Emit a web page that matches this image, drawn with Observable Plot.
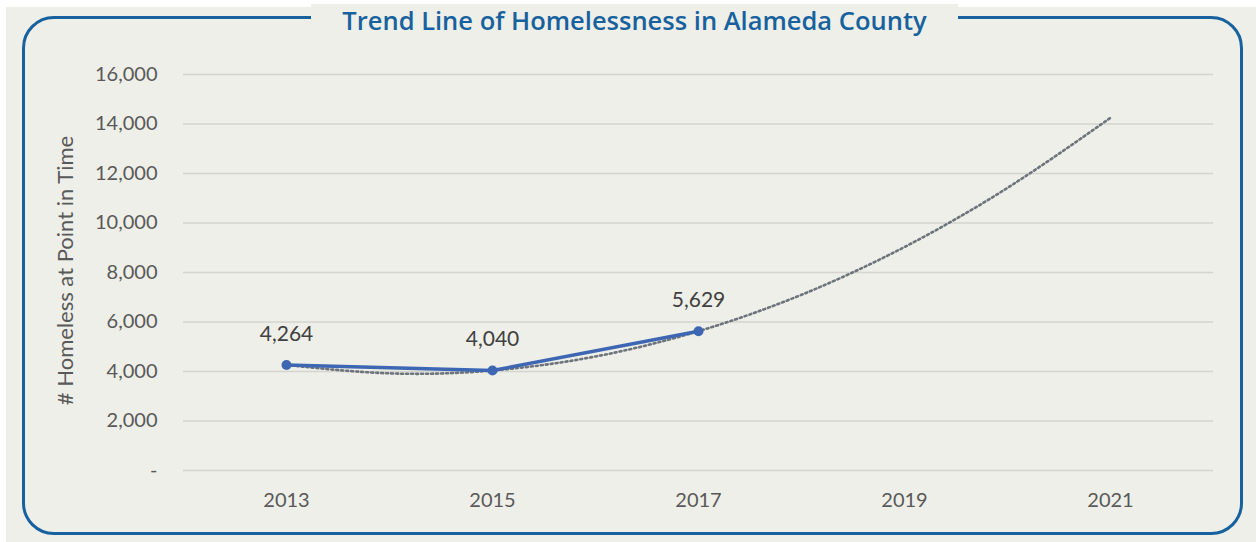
<!DOCTYPE html>
<html>
<head>
<meta charset="utf-8">
<script src="https://cdn.jsdelivr.net/npm/d3@7"></script>
<script src="https://cdn.jsdelivr.net/npm/@observablehq/plot@0.6"></script>
<style>
  html, body { margin: 0; padding: 0; background: #ffffff; }
  #wrap { position: relative; width: 1256px; height: 542px; overflow: hidden; background: #ffffff; }
  #bg { position: absolute; left: 6px; top: 7px; width: 1250px; height: 535px; background: #eeefe8; }
  #frame { position: absolute; left: 22px; top: 16px; width: 1215px; height: 513px;
           border: 3px solid #17629e; border-radius: 32px; }
  #title { position: absolute; left: 311px; width: 647px; top: 4px; text-align: center;
           background: #eeefe8; color: #17629e; font-family: "Open Sans", sans-serif;
           font-weight: 600; font-size: 25.5px; line-height: 32px; }
  #chart { position: absolute; left: 0; top: 0; }
</style>
</head>
<body>
<div id="wrap">
  <div id="bg"></div>
  <div id="frame"></div>
  <div id="title">Trend Line of Homelessness in Alameda County</div>
  <div id="chart"></div>
</div>
<script>
// Observed counts
const years = [2013, 2015, 2017];
const counts = [4264, 4040, 5629];
// Trend line
const trendYears = [2013, 2014, 2015, 2016, 2017, 2018, 2019, 2020, 2021];
const trendValues = [4264, 3925, 4040, 4607, 5629, 7100, 9030, 11420, 14250];
// Axis ticks
const xTicks = [2013, 2015, 2017, 2019, 2021];
const yTicks = [0, 2000, 4000, 6000, 8000, 10000, 12000, 14000, 16000];
const yLabel = "# Homeless at Point in Time";

const observed = years.map((y, i) => ({year: y, value: counts[i]}));
const trend = trendYears.map((y, i) => ({year: y, value: trendValues[i]}));

const fmt = d3.format(",");
const chart = Plot.plot({
  width: 1256,
  height: 542,
  marginLeft: 183,
  marginRight: 43,
  marginTop: 74,
  marginBottom: 72,
  style: {background: "transparent", fontFamily: "Lato, 'Open Sans', sans-serif", fontSize: "20px", color: "#595959"},
  x: {domain: [2012, 2022]},
  y: {domain: [0, 16000]},
  marks: [
    Plot.gridY(yTicks, {stroke: "#d4d4d0", strokeOpacity: 1, strokeWidth: 1.5}),
    Plot.axisY({ticks: yTicks, tickSize: 0, tickPadding: 26, tickFormat: d => d === 0 ? "-" : fmt(d),
      fill: "#595959", fontSize: 20, label: null}),
    Plot.text([yLabel], {text: d => d, frameAnchor: "left", textAnchor: "middle", lineAnchor: "middle",
      rotate: -90, dx: -118, dy: -2, fontSize: 22, fill: "#595959"}),
    Plot.axisX({ticks: xTicks, tickSize: 0, tickPadding: 22, tickFormat: d => String(d),
      fill: "#595959", fontSize: 20, label: null}),
    Plot.line(trend, {x: "year", y: "value", curve: "natural", stroke: "#6d747c", strokeWidth: 2.6, strokeDasharray: "2,3"}),
    Plot.line(observed, {x: "year", y: "value", stroke: "#3d66b3", strokeWidth: 3.5}),
    Plot.dot(observed, {x: "year", y: "value", r: 5, fill: "#3d66b3", stroke: "none"}),
    Plot.text(observed, {x: "year", y: "value", text: d => fmt(d.value), dy: -31, fontSize: 21, fill: "#404040"})
  ]
});
document.getElementById("chart").appendChild(chart);
</script>
</body>
</html>
